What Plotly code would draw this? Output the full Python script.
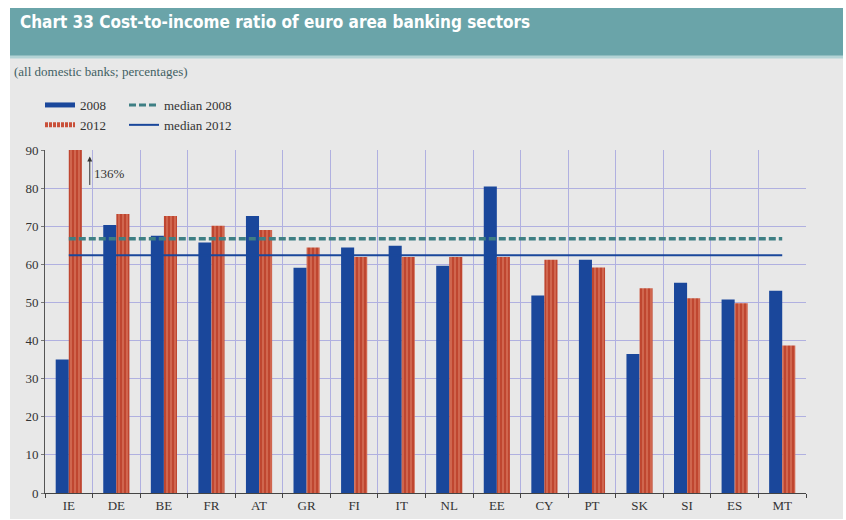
import plotly.graph_objects as go

countries = ["IE", "DE", "BE", "FR", "AT", "GR", "FI", "IT", "NL", "EE", "CY", "PT", "SK", "SI", "ES", "MT"]
ratio_2008 = [35.0, 70.3, 67.5, 65.7, 72.7, 59.1, 64.4, 64.9, 59.6, 80.4, 51.8, 61.2, 36.5, 55.2, 50.8, 53.1]
ratio_2012 = [136.0, 73.2, 72.7, 70.1, 69.0, 64.4, 61.9, 61.9, 61.9, 61.9, 61.2, 59.2, 53.7, 51.1, 49.8, 38.7]
median_2008 = 66.7
median_2012 = 62.4
y_ticks = [0, 10, 20, 30, 40, 50, 60, 70, 80, 90]

W, H = 846, 520
L, R, T, B = 45, 806, 150, 493


def px(x):
    return (x - L) / (R - L)


def py(y):
    return (B - y) / (B - T)


BLUE = "#1a479b"
RED_BG = "#bf4630"
RED_FG = "#e58e74"
TEAL = "#3e7f84"
GRID = "#b0b0e0"
SERIF = "Liberation Serif, Times New Roman, serif"

fig = go.Figure()

fig.add_trace(go.Bar(
    x=countries, y=ratio_2008, name="2008", marker=dict(color=BLUE, line=dict(width=0)),
    showlegend=False,
))
fig.add_trace(go.Bar(
    x=countries, y=ratio_2012, name="2012",
    marker=dict(color=RED_BG, line=dict(width=0),
                pattern=dict(shape="|", fgcolor=RED_FG, bgcolor=RED_BG, size=4, solidity=0.45, fillmode="overlay")),
    showlegend=False,
))
fig.add_trace(go.Scatter(
    x=[countries[0], countries[-1]], y=[median_2008, median_2008], mode="lines",
    line=dict(color=TEAL, width=3.5, dash="7px,3px"), showlegend=False,
))
fig.add_trace(go.Scatter(
    x=[countries[0], countries[-1]], y=[median_2012, median_2012], mode="lines",
    line=dict(color=BLUE, width=2), showlegend=False,
))

# legend entries (line-style keys as in the original)
fig.add_trace(go.Scatter(x=[None], y=[None], mode="lines", name="2008",
                         line=dict(color=BLUE, width=5), legend="legend"))
fig.add_trace(go.Scatter(x=[None], y=[None], mode="lines", name="2012",
                         line=dict(color="#c9503a", width=5, dash="3px,1px"), legend="legend"))
fig.add_trace(go.Scatter(x=[None], y=[None], mode="lines", name="median 2008",
                         line=dict(color=TEAL, width=3, dash="7px,3px"), legend="legend2"))
fig.add_trace(go.Scatter(x=[None], y=[None], mode="lines", name="median 2012",
                         line=dict(color=BLUE, width=2), legend="legend2"))

shapes = [
    # grey panel
    dict(type="rect", xref="paper", yref="paper", x0=px(10), x1=px(843), y0=py(519), y1=py(57),
         fillcolor="#e8e8e8", line=dict(width=0), layer="below"),
    # title banner
    dict(type="rect", xref="paper", yref="paper", x0=px(10), x1=px(843), y0=py(57), y1=py(8),
         fillcolor="#6aa4a9", line=dict(width=0), layer="below"),
    dict(type="rect", xref="paper", yref="paper", x0=px(10), x1=px(843), y0=py(58.5), y1=py(55.5),
         fillcolor="#b3d3d5", line=dict(width=0), layer="below"),
]

annotations = [
    dict(xref="paper", yref="paper", x=px(18), y=py(22), xanchor="left", yanchor="middle",
         text="<b>Chart 33 Cost-to-income ratio of euro area banking sectors</b>", showarrow=False,
         font=dict(family="Liberation Sans Narrow, DejaVu Sans Condensed, Arial Narrow, sans-serif",
                   size=17, color="white")),
    dict(xref="paper", yref="paper", x=px(12), y=py(71), xanchor="left", yanchor="middle",
         text="(all domestic banks; percentages)", showarrow=False,
         font=dict(family=SERIF, size=13, color="#3f6063")),
    dict(x=countries[0], y=88.3, xref="x", yref="y", xshift=21, text="", showarrow=True,
         ax=0, ay=30, arrowhead=2, arrowsize=1, arrowwidth=1, arrowcolor="#333333"),
    dict(x=countries[0], y=83.8, xref="x", yref="y", xshift=23, xanchor="left", yanchor="middle",
         text="136%", showarrow=False, font=dict(family=SERIF, size=13, color="#333333")),
]

fig.update_layout(
    width=W, height=H,
    margin=dict(l=L, r=W - R, t=T, b=H - B, pad=0, autoexpand=False),
    paper_bgcolor="white", plot_bgcolor="#e8e8e8",
    barmode="group", bargap=0.45, bargroupgap=0.0,
    shapes=shapes, annotations=annotations,
    font=dict(family=SERIF, size=13, color="#333333"),
    legend=dict(x=px(40), y=py(90), xanchor="left", yanchor="top", bgcolor="rgba(0,0,0,0)",
                font=dict(family=SERIF, size=13, color="#333333"), tracegroupgap=0, itemwidth=30),
    legend2=dict(x=px(124), y=py(90), xanchor="left", yanchor="top", bgcolor="rgba(0,0,0,0)",
                 font=dict(family=SERIF, size=13, color="#333333"), tracegroupgap=0, itemwidth=30),
    xaxis=dict(
        type="category", categoryorder="array", categoryarray=countries,
        tickson="boundaries", showgrid=True, gridcolor=GRID, gridwidth=1,
        showline=True, linecolor="#444444", linewidth=1.2,
        ticks="outside", ticklen=4, tickcolor="#444444",
        tickfont=dict(family=SERIF, size=13, color="#333333"),
    ),
    yaxis=dict(
        range=[0, 90], tickvals=y_ticks, showgrid=True, gridcolor=GRID, gridwidth=1,
        zeroline=False, showline=True, linecolor="#555555", linewidth=1,
        ticks="outside", ticklen=3, tickcolor="#777777",
        tickfont=dict(family=SERIF, size=13, color="#333333"),
    ),
    yaxis2=dict(
        range=[0, 90], tickvals=y_ticks, overlaying="y", side="right", showgrid=False,
        zeroline=False, showline=True, linecolor="#333333", linewidth=1.5,
        ticks="", tickfont=dict(family=SERIF, size=13, color="#333333"), ticklabelstandoff=8,
    ),
)

fig.write_html("out.html", config={"displayModeBar": False},
               post_script="document.body.style.margin='0';")
